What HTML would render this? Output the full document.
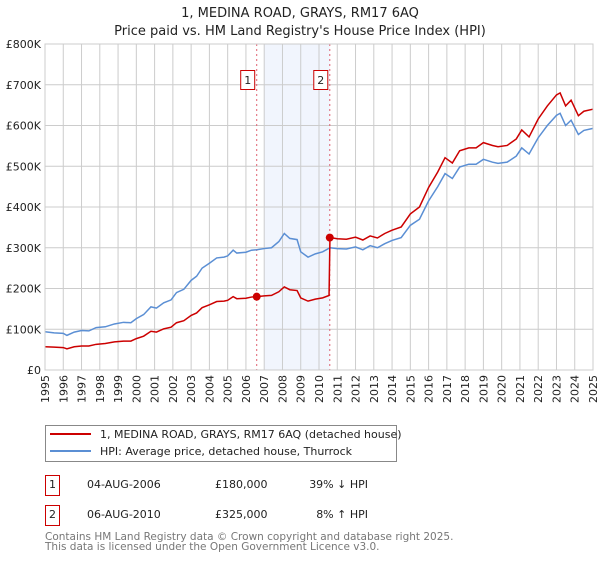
<!DOCTYPE html>
<html><head><meta charset="utf-8"><style>
body{margin:0;background:#fff;font-family:"DejaVu Sans","Liberation Sans",sans-serif;}
svg text{font-family:"DejaVu Sans","Liberation Sans",sans-serif;}
</style></head><body>
<svg id="chart" width="600" height="560" xmlns="http://www.w3.org/2000/svg">
<text x="300" y="17" text-anchor="middle" font-size="13" fill="#222">1, MEDINA ROAD, GRAYS, RM17 6AQ</text>
<text x="300" y="35" text-anchor="middle" font-size="13" fill="#222">Price paid vs. HM Land Registry's House Price Index (HPI)</text>
<g id="plot"></g>
<g>
<rect x="45.5" y="425.5" width="351" height="36" fill="#fff" stroke="#888"/>
<line x1="50" y1="434" x2="91" y2="434" stroke="#cc0000" stroke-width="2"/>
<text x="100" y="438" font-size="11" fill="#222">1, MEDINA ROAD, GRAYS, RM17 6AQ (detached house)</text>
<line x1="50" y1="451" x2="91" y2="451" stroke="#5b8fd4" stroke-width="2"/>
<text x="100" y="455" font-size="11" fill="#222">HPI: Average price, detached house, Thurrock</text>
</g>
<g font-size="11" fill="#222">
<rect x="45.5" y="475.5" width="14" height="20" fill="#fff" stroke="#cc0000"/>
<text x="52.5" y="488" text-anchor="middle">1</text>
<text x="87" y="488">04-AUG-2006</text>
<text x="215" y="488">£180,000</text>
<text x="368" y="488" text-anchor="end">39% ↓ HPI</text>
<rect x="45.5" y="505.5" width="14" height="20" fill="#fff" stroke="#cc0000"/>
<text x="52.5" y="518" text-anchor="middle">2</text>
<text x="87" y="518">06-AUG-2010</text>
<text x="215" y="518">£325,000</text>
<text x="368" y="518" text-anchor="end">8% ↑ HPI</text>
</g>
<text x="45" y="540" font-size="10.5" fill="#777">Contains HM Land Registry data © Crown copyright and database right 2025.</text>
<text x="45" y="550" font-size="10.5" fill="#777">This data is licensed under the Open Government Licence v3.0.</text>
</svg>
<script>
const hpiDates=[1995.0,1995.5,1996.0,1996.2,1996.6,1997.0,1997.4,1997.8,1998.3,1998.8,1999.3,1999.7,2000.0,2000.4,2000.8,2001.1,2001.5,2001.9,2002.2,2002.6,2003.0,2003.3,2003.6,2004.0,2004.4,2004.8,2005.0,2005.3,2005.5,2006.0,2006.3,2006.6,2007.0,2007.4,2007.8,2008.1,2008.4,2008.8,2009.0,2009.4,2009.8,2010.2,2010.6,2011.0,2011.5,2012.0,2012.4,2012.8,2013.2,2013.6,2014.0,2014.5,2015.0,2015.5,2016.0,2016.5,2016.9,2017.3,2017.7,2018.2,2018.6,2019.0,2019.5,2019.8,2020.3,2020.8,2021.1,2021.5,2022.0,2022.5,2023.0,2023.2,2023.5,2023.8,2024.2,2024.5,2025.0];
const hpiValues=[94,91,90,85,93,97,96,104,106,113,117,116,126,136,155,152,165,172,190,198,220,230,250,262,275,277,280,294,287,289,294,295,298,300,315,335,323,320,290,277,285,290,300,298,297,302,295,305,300,310,318,325,355,370,415,450,482,470,498,505,505,517,510,507,510,525,545,530,570,600,625,630,600,613,578,588,593];
const priceDates=[1995.0,1995.5,1996.0,1996.2,1996.6,1997.0,1997.4,1997.8,1998.3,1998.8,1999.3,1999.7,2000.0,2000.4,2000.8,2001.1,2001.5,2001.9,2002.2,2002.6,2003.0,2003.3,2003.6,2004.0,2004.4,2004.8,2005.0,2005.3,2005.5,2006.0,2006.3,2006.6,2007.0,2007.4,2007.8,2008.1,2008.4,2008.8,2009.0,2009.4,2009.8,2010.2,2010.55,2010.6,2011.0,2011.5,2012.0,2012.4,2012.8,2013.2,2013.6,2014.0,2014.5,2015.0,2015.5,2016.0,2016.5,2016.9,2017.3,2017.7,2018.2,2018.6,2019.0,2019.5,2019.8,2020.3,2020.8,2021.1,2021.5,2022.0,2022.5,2023.0,2023.2,2023.5,2023.8,2024.2,2024.5,2025.0];
const priceValues=[57,56,55,52,57,59,59,63,65,69,71,71,77,83,95,93,101,105,116,121,134,140,153,160,168,169,171,180,175,176,179,180,182,183,192,204,197,195,177,169,174,177,183,325,322,321,326,319,329,324,335,343,351,383,400,448,486,521,508,538,545,545,558,551,548,551,567,589,572,616,648,675,680,648,662,624,635,640];
const saleDates=[2006.59,2010.59];
const saleValues=[180,325];
const saleLabels=["1","2"];
const yTicks=[0,100,200,300,400,500,600,700,800];
const yTickLabels=["£0","£100K","£200K","£300K","£400K","£500K","£600K","£700K","£800K"];
const xYears=[1995,1996,1997,1998,1999,2000,2001,2002,2003,2004,2005,2006,2007,2008,2009,2010,2011,2012,2013,2014,2015,2016,2017,2018,2019,2020,2021,2022,2023,2024,2025];

const X0=45,X1=593,Y0=370,Y1=44;
const xs=t=>X0+(t-1995)/30*(X1-X0);
const ys=v=>Y0-v/800*(Y0-Y1);
const NS="http://www.w3.org/2000/svg";
const g=document.getElementById('plot');
function mk(tag,attrs){const e=document.createElementNS(NS,tag);for(const k in attrs)e.setAttribute(k,attrs[k]);g.appendChild(e);return e;}

let r=mk('rect',{x:xs(2007),y:Y1,width:xs(saleDates[1])-xs(2007),height:Y0-Y1,fill:'#eef3fc',opacity:0.8});


yTicks.forEach((v,i)=>{
 let l=mk('line',{x1:X0,x2:X1,y1:ys(v),y2:ys(v),stroke:'#ccc'});
 
 
 let t=mk('text',{x:X0-4,y:ys(v)+4,'text-anchor':'end','font-size':11,fill:'#222'});
 t.textContent=yTickLabels[i];
 
 
});
xYears.forEach(yr=>{
 let l=mk('line',{x1:xs(yr),x2:xs(yr),y1:Y1,y2:Y0,stroke:'#ccc'});
 
 
 let t=mk('text',{x:0,y:0,'text-anchor':'end','font-size':11,fill:'#222',transform:`translate(${xs(yr)+4},${Y0+5}) rotate(-90)`});
 t.textContent=yr;
 
 
});
saleDates.forEach((d,i)=>{
 let l=mk('line',{x1:xs(d),x2:xs(d),y1:Y1,y2:Y0,stroke:'#e06070','stroke-dasharray':'2,3'});
 
 
 let b=mk('rect',{x:xs(d)-16,y:70.5,width:14,height:19,fill:'#fff',stroke:'#cc0000'});
 
 
 let t=mk('text',{x:xs(d)-9,y:84,'text-anchor':'middle','font-size':11,fill:'#222'});
 t.textContent=saleLabels[i];
 
 
});
let hp=mk('polyline',{points:hpiDates.map((d,i)=>xs(d)+','+ys(hpiValues[i])).join(' '),fill:'none',stroke:'#5b8fd4','stroke-width':1.5});


let pp=mk('polyline',{points:priceDates.map((d,i)=>xs(d)+','+ys(priceValues[i])).join(' '),fill:'none',stroke:'#cc0000','stroke-width':1.5});


saleDates.forEach((d,i)=>{
 let c=mk('circle',{cx:xs(d),cy:ys(saleValues[i]),r:4,fill:'#cc0000'});
 
 
});
let ax=mk('rect',{x:X0,y:Y1,width:X1-X0,height:Y0-Y1,fill:'none',stroke:'#ccc'});


</script>
</body></html>
